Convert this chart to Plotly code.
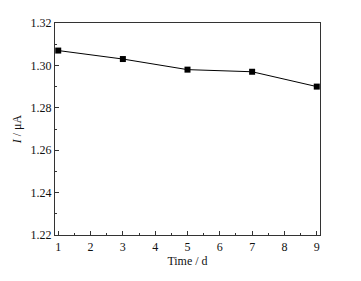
import plotly.graph_objects as go

time_d = [1, 3, 5, 7, 9]
current_uA = [1.307, 1.303, 1.298, 1.297, 1.290]
x_ticks = [1, 2, 3, 4, 5, 6, 7, 8, 9]
y_ticks = [1.22, 1.24, 1.26, 1.28, 1.30, 1.32]

fig = go.Figure()
fig.add_trace(go.Scatter(
    x=time_d, y=current_uA, mode="lines+markers",
    line=dict(color="black", width=1),
    marker=dict(symbol="square", size=6, color="black"),
    showlegend=False,
))

font = dict(family="Liberation Serif", size=12, color="#111")
# page body has an 8px default margin; compensate so the plot lands where the reference has it
fig.update_layout(
    width=353, height=273,
    margin=dict(l=43, r=41, t=8, b=46),
    paper_bgcolor="white", plot_bgcolor="white",
    font=font,
)
fig.update_xaxes(
    range=[0.9, 9.1], tickvals=x_ticks, ticktext=[str(v) for v in x_ticks],
    ticks="inside", ticklen=4, tickwidth=1, tickcolor="#333",
    minor=dict(ticks="inside", ticklen=2, dtick=0.5, tickcolor="#333"),
    showline=True, linecolor="#333", linewidth=1.3, mirror=True,
    showgrid=False, zeroline=False,
    title=dict(text="Time / d", standoff=3, font=font),
)
fig.update_yaxes(
    range=[1.22, 1.32], tickvals=y_ticks, ticktext=[f"{v:.2f}" for v in y_ticks],
    ticks="inside", ticklen=4, tickwidth=1, tickcolor="#333",
    minor=dict(ticks="inside", ticklen=2, dtick=0.01, tickcolor="#333"),
    showline=True, linecolor="#333", linewidth=1.3, mirror=True,
    showgrid=False, zeroline=False,
    title=dict(text="<i>I</i> / μA", standoff=6, font=font),
)
fig.write_html("out.html")
